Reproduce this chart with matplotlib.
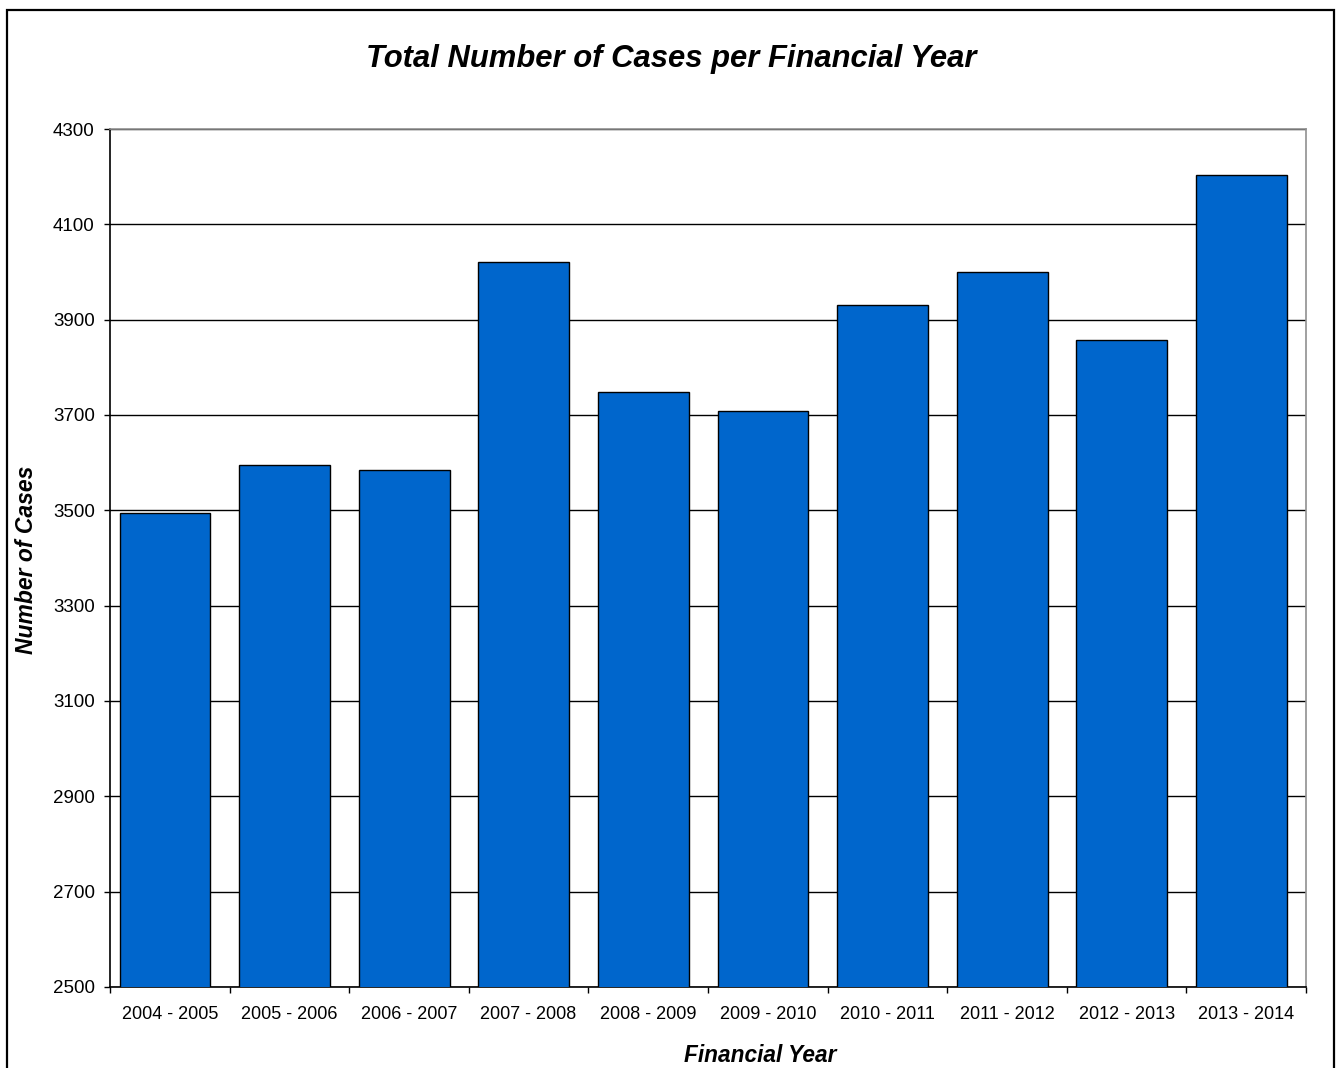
import numpy as np
import matplotlib.pyplot as plt
from matplotlib.patches import Rectangle

plt.rcParams['font.family'] = ['Liberation Sans', 'DejaVu Sans']

years = ['2004 - 2005', '2005 - 2006', '2006 - 2007', '2007 - 2008',
         '2008 - 2009', '2009 - 2010', '2010 - 2011', '2011 - 2012',
         '2012 - 2013', '2013 - 2014']
cases = [3494, 3595, 3585, 4022, 3748, 3709, 3931, 4000, 3858, 4203]
y_ticks = [2500, 2700, 2900, 3100, 3300, 3500, 3700, 3900, 4100, 4300]

W, H = 1342, 1068
fig = plt.figure(figsize=(W / 100, H / 100), dpi=100)

# outer chart border (runs off the bottom edge like the original)
fig.patches.append(Rectangle((7 / W, -0.05), (1334 - 7) / W, 1.05 - 10 / H,
                             transform=fig.transFigure, fill=False,
                             edgecolor='black', linewidth=1.6, clip_on=False))

ax = fig.add_axes([110 / W, 1 - 987 / H, (1306 - 110) / W, (987 - 129) / H])

x = np.arange(len(years))
# excel draws the bars a touch left of the category centre
ax.bar(x - 0.04, cases, width=0.76, color='#0066CC', edgecolor='black',
       linewidth=1.0, zorder=3)

ax.set_xlim(-0.5, len(years) - 0.5)
ax.set_ylim(2500, 4300)
ax.set_yticks(y_ticks)
ax.yaxis.grid(True, color='black', linewidth=1.0, zorder=0)

ax.set_xticks(x)
ax.set_xticklabels(years, fontsize=13)
ax.set_xticks(np.arange(len(years) + 1) - 0.5, minor=True)
ax.tick_params(axis='x', which='major', length=0, pad=14)
ax.tick_params(axis='x', which='minor', length=4.5, width=1.0, direction='out')
ax.tick_params(axis='y', length=4.5, width=1.0, direction='out', labelsize=13.5, pad=6.5)

ax.spines['left'].set_color('black')
ax.spines['bottom'].set_color('black')
ax.spines['top'].set_color('#909090')
ax.spines['right'].set_color('#909090')
for s in ax.spines.values():
    s.set_linewidth(1.2)

fig.text(671 / W, 1 - 59 / H, 'Total Number of Cases per Financial Year',
         ha='center', va='center', fontsize=22.3, fontweight='bold', style='italic')
fig.text(760 / W, 1 - 1056 / H, 'Financial Year', ha='center', va='center',
         fontsize=16.3, fontweight='bold', style='italic')
fig.text(27 / W, 1 - 560 / H, 'Number of Cases', rotation=90, ha='center',
         va='center', fontsize=16.5, fontweight='bold', style='italic')

fig.savefig('out.png', dpi=100)
